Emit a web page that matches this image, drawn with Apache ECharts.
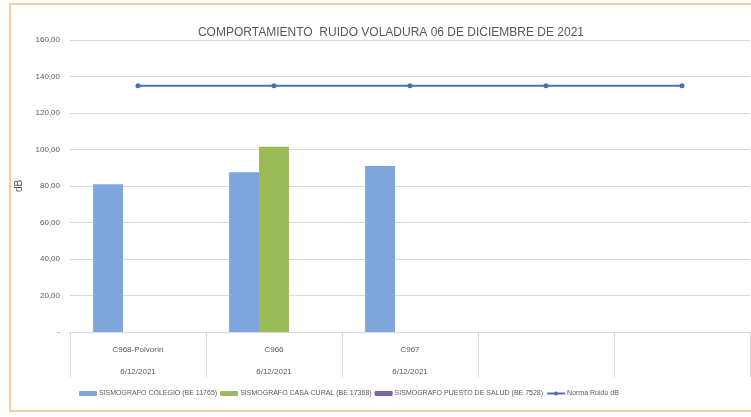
<!DOCTYPE html>
<html>
<head>
<meta charset="utf-8">
<script src="https://cdn.jsdelivr.net/npm/echarts@6/dist/echarts.min.js"></script>
<style>
    html, body { margin: 0; padding: 0; background: #fff; }
    #chart1 { width: 751px; height: 417px; }
</style>
</head>
<body>
<div id="chart1"></div>
<script>
var categorias = ['C968-Polvorín', 'C966', 'C967', '', ''];
var fechas = ['6/12/2021', '6/12/2021', '6/12/2021', '', ''];
var colegio = [81, 87.5, 91, null, null];
var casaCural = [null, 101.5, null, null, null];
var puestoSalud = [null, null, null, null, null];
var normaRuido = [135, 135, 135, 135, 135];
var nombres = ['SISMOGRAFO COLEGIO (BE 11765)', 'SISMOGRAFO CASA CURAL (BE 17368)', 'SISMOGRAFO PUESTO DE SALUD (BE 7528)', 'Norma Ruido dB'];
var colorList = ['#7ea6dc', '#9bbb59', '#8064a2', '#4a72b0'];

var txt = '#595959';
var font = '"Liberation Sans", sans-serif';

var chart1 = echarts.init(document.getElementById('chart1'));
var option = {
    animation: false,
    title: {
        text: 'COMPORTAMIENTO  RUIDO VOLADURA 06 DE DICIEMBRE DE 2021',
        left: 386,
        textAlign: 'center',
        top: 22,
        textStyle: { color: txt, fontSize: 12, fontWeight: 'normal', fontFamily: font }
    },
    graphic: [{
        type: 'rect',
        shape: { x: 10, y: 4, width: 745, height: 407 },
        style: { fill: 'none', stroke: '#f1cda9', lineWidth: 2 },
        silent: true
    }],
    legend: {
        bottom: 15,
        left: 74,
        itemWidth: 18,
        itemHeight: 5,
        itemGap: 3,
        data: nombres,
        textStyle: { color: txt, fontSize: 7, fontFamily: font, padding: [0, 0, 0, -3] }
    },
    grid: { left: 70, right: 1, top: 40, bottom: 85 },
    xAxis: {
        type: 'category',
        data: categorias,
        axisLine: { lineStyle: { color: '#d9d9d9' } },
        axisTick: { show: true, length: 45, lineStyle: { color: '#d9d9d9' } },
        axisLabel: {
            color: txt, fontSize: 8, fontFamily: font, margin: 7, lineHeight: 22,
            formatter: function(value, index) {
                return value + '\n' + fechas[index];
            }
        }
    },
    yAxis: {
        type: 'value',
        min: 0,
        max: 160,
        interval: 20,
        name: 'dB',
        nameLocation: 'middle',
        nameRotate: 90,
        nameGap: 46,
        nameTextStyle: { color: txt, fontSize: 10, fontFamily: font },
        axisLine: { show: false },
        splitLine: { lineStyle: { color: '#d9d9d9' } },
        axisLabel: {
            color: txt, fontSize: 8, fontFamily: font, margin: 10,
            formatter: function(v) {
                if (v == 0) return '-';
                return v.toFixed(2).replace('.', ',');
            }
        }
    },
    series: [{
        name: nombres[0], type: 'bar', data: colegio,
        barGap: '0%', barCategoryGap: '34%',
        itemStyle: { color: colorList[0] }
    }, {
        name: nombres[1], type: 'bar', data: casaCural,
        itemStyle: { color: colorList[1] }
    }, {
        name: nombres[2], type: 'bar', data: puestoSalud,
        itemStyle: { color: colorList[2] }
    }, {
        name: nombres[3], type: 'line', data: normaRuido,
        symbol: 'circle', symbolSize: 5,
        lineStyle: { color: colorList[3], width: 2 },
        itemStyle: { color: colorList[3] }
    }]
};
chart1.setOption(option);
</script>
</body>
</html>
